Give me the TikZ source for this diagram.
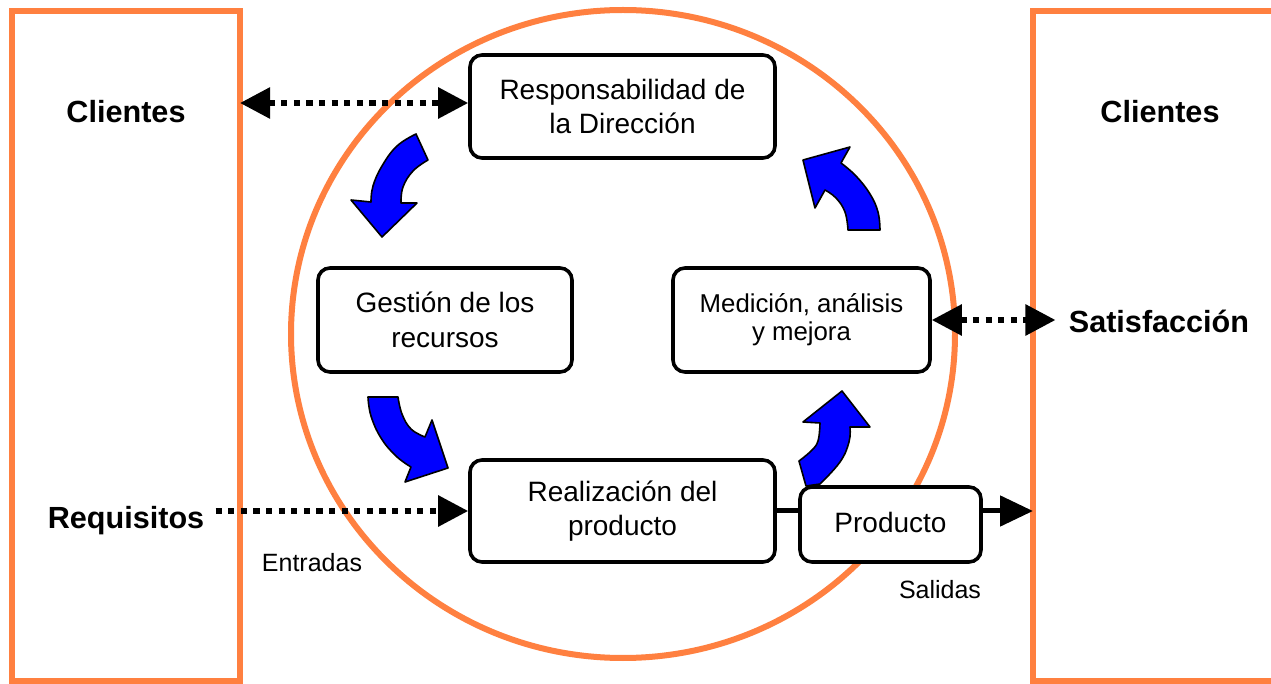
\documentclass[tikz,border=0pt]{standalone}
\usepackage{fontspec}
\setmainfont{Liberation Sans}
\usetikzlibrary{arrows.meta}
\definecolor{frameorange}{RGB}{255,128,64}
\definecolor{arrowblue}{RGB}{0,0,255}
\begin{document}
\begin{tikzpicture}[x=0.5pt,y=-0.5pt,
  frame/.style={draw=frameorange, line width=3pt, inner sep=0pt, outer sep=0pt},
  procbox/.style={draw=black, fill=white, line width=1.8pt, rounded corners=6pt,
    align=center, inner sep=0pt, font=\fontsize{14}{17.25}\selectfont},
  lbl/.style={font=\fontsize{15.3}{18}\selectfont\bfseries, inner sep=0pt, anchor=base},
  smalllbl/.style={font=\fontsize{12.5}{15}\selectfont, inner sep=0pt, anchor=base},
  dotarrow/.style={line width=2.9pt, dash pattern=on 3.1pt off 3.2pt},
  tipshape/.tip={Triangle[length=15pt,width=15pt]},
  blockarrow/.style={fill=arrowblue, draw=black, line width=0.8pt, line join=round}
]
\useasboundingbox (0,0) rectangle (1271,684);
\fill[white] (0,0) rectangle (1271,684);
\clip (0,0) rectangle (1271,684);

% big circle
\draw[frameorange, line width=3pt] (623,334) ellipse [x radius=166pt, y radius=162pt];

% side frames
\node[frame, minimum width=114pt, minimum height=335pt] (leftrect) at (126,346) {};
\node[frame, minimum width=130pt, minimum height=335pt] (rightrect) at (1163,346) {};

% labels
\node[lbl] (cliL) at (126,123) {Clientes};
\node[lbl] (cliR) at (1160,123) {Clientes};
\node[lbl] (req) at (126,529) {Requisitos};
\node[lbl] (sat) at (1159,333) {Satisfacción};
\node[smalllbl] (ent) at (312,572) {Entradas};
\node[smalllbl] (sal) at (940,598) {Salidas};

% process boxes
\node[procbox, minimum width=152.5pt, minimum height=51.5pt] (resp) at (622.5,106.5) {Responsabilidad de\\la Dirección};
\node[procbox, minimum width=127pt, minimum height=52pt] (gest) at (445,320) {Gestión de los\\recursos};
\node[procbox, minimum width=128.5pt, minimum height=52pt, font=\fontsize{12.9}{14}\selectfont] (med) at (801.5,320) {Medición, análisis\\y mejora};
\node[procbox, minimum width=152.5pt, minimum height=51pt] (real) at (622.5,511) {Realización del\\producto};
\node[procbox, minimum width=90.5pt, minimum height=37.5pt] (prod) at (890.5,524.5) {\raisebox{2pt}{Producto}};

% connectors
\coordinate (clientarrow) at ([yshift=1.75pt]resp.west);
\draw[dotarrow, tipshape-tipshape] (leftrect.east |- clientarrow) -- (clientarrow);
\draw[dotarrow, tipshape-tipshape, shorten >=6.5pt] (med.east) -- (sat.west |- med.east);
\draw[dotarrow, -tipshape, shorten <=5.5pt] (req.east |- real.west) -- (real.west);
\draw[line width=2.5pt] (real.east) -- (prod.west |- real.east);
\draw[line width=2.5pt, -{Triangle[length=16.5pt,width=15pt]}] (prod.east |- real.east) -- (rightrect.west |- real.east);

% blue cycle arrows
\filldraw[blockarrow] plot[smooth, tension=0.7] coordinates {(416,134) (397,146) (382,166) (373,186) (371,202)}
  -- (351,200) -- (382,237) -- (417,203) -- (401,203)
  -- plot[smooth, tension=0.7] coordinates {(401,203) (403,187) (413,171) (428,160)} -- cycle;
\filldraw[blockarrow] plot[smooth, tension=0.7] coordinates {(368,397) (371,416) (381,438) (396,456) (411,467)}
  -- (405,482) -- (448,468) -- (432,420) -- (425,437)
  -- plot[smooth, tension=0.7] coordinates {(425,437) (411,429) (402,414) (398,397)} -- cycle;
\filldraw[blockarrow] plot[smooth, tension=0.7] coordinates {(799,461) (811,451) (818,441) (820,423)}
  -- (803,422) -- (842,391) -- (870,427) -- (850,427)
  -- plot[smooth, tension=0.7] coordinates {(850,427) (849,442) (840,462) (820,484)} -- (806,486) -- cycle;
\filldraw[blockarrow] plot[smooth, tension=0.7] coordinates {(848,230) (845,212) (836,198) (825,190)}
  -- (815,208) -- (803,160) -- (850,147) -- (841,163)
  -- plot[smooth, tension=0.7] coordinates {(841,163) (856,176) (870,194) (878,212) (880,230)} -- cycle;
\end{tikzpicture}
\end{document}
